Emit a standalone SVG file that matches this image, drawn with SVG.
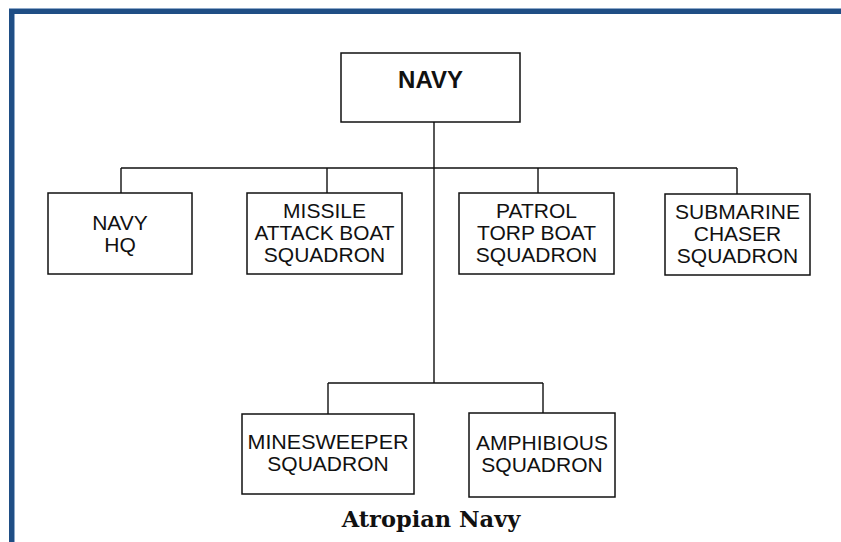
<svg xmlns="http://www.w3.org/2000/svg" width="841" height="542" viewBox="0 0 841 542">
<style>
.box{fill:#fff;stroke:#111;stroke-width:1.5}
.lbl{font-family:"Liberation Sans",Arial,sans-serif;font-size:21px;fill:#111;text-anchor:middle}
.ttl{font-family:"Liberation Sans",Arial,sans-serif;font-size:24px;font-weight:bold;fill:#111;text-anchor:middle}
.cap{font-family:"DejaVu Serif","Liberation Serif",serif;font-size:22.5px;font-weight:bold;fill:#111;text-anchor:middle}
.con{fill:none;stroke:#111;stroke-width:1.4}
</style>
<rect width="841" height="542" fill="#fff"/>
<g id="frame">
<rect x="9" y="8" width="832" height="1.2" fill="#8ea9c9"/>
<rect x="9" y="9" width="832" height="5" fill="#1f4e85"/>
<rect x="14" y="14" width="1" height="528" fill="#8ea9c9"/>
<rect x="9" y="9" width="5" height="533" fill="#1f4e85"/>
</g>
<g id="connectors">
<path class="con" d="M434 122V383M121 168H737M121 168V193M327 168V193M538 168V193M737 168V194M328 383H543M328 383V414M543 383V413"/>
</g>
<g id="navy">
<rect class="box" x="341" y="53" width="179" height="69"/>
<text class="ttl" x="430.5" y="88">NAVY</text>
</g>
<g id="navy-hq">
<rect class="box" x="48" y="193" width="144" height="81"/>
<text class="lbl" x="120" y="230">NAVY</text>
<text class="lbl" x="120" y="252">HQ</text>
</g>
<g id="missile">
<rect class="box" x="247" y="193" width="155" height="81"/>
<text class="lbl" x="324.5" y="218">MISSILE</text>
<text class="lbl" x="324.5" y="240" textLength="140" lengthAdjust="spacingAndGlyphs">ATTACK BOAT</text>
<text class="lbl" x="324.5" y="262">SQUADRON</text>
</g>
<g id="patrol">
<rect class="box" x="459" y="193" width="155" height="81"/>
<text class="lbl" x="536.5" y="218">PATROL</text>
<text class="lbl" x="536.5" y="240">TORP BOAT</text>
<text class="lbl" x="536.5" y="262">SQUADRON</text>
</g>
<g id="submarine">
<rect class="box" x="665" y="194" width="145" height="81"/>
<text class="lbl" x="737.5" y="219">SUBMARINE</text>
<text class="lbl" x="737.5" y="241">CHASER</text>
<text class="lbl" x="737.5" y="263">SQUADRON</text>
</g>
<g id="minesweeper">
<rect class="box" x="242" y="414" width="172" height="80"/>
<text class="lbl" x="328" y="449" textLength="161" lengthAdjust="spacingAndGlyphs">MINESWEEPER</text>
<text class="lbl" x="328" y="471">SQUADRON</text>
</g>
<g id="amphibious">
<rect class="box" x="469" y="413" width="146" height="84"/>
<text class="lbl" x="542" y="450">AMPHIBIOUS</text>
<text class="lbl" x="542" y="472">SQUADRON</text>
</g>
<text class="cap" x="431" y="527">Atropian Navy</text>
</svg>
